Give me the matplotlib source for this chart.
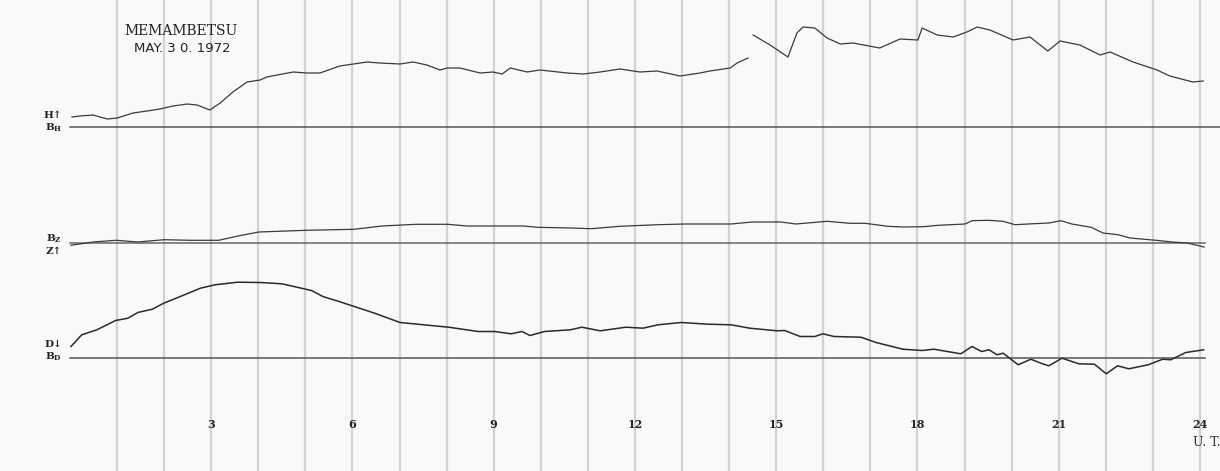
import numpy as np
import matplotlib
matplotlib.use("Agg")
import matplotlib.pyplot as plt

# Memambetsu magnetogram, 30 May 1972 (U.T. hours, trace deflection above baseline)
h_hours_1 = [0.04, 0.21, 0.49, 0.79, 1.00, 1.34, 1.64, 1.91, 2.19, 2.49, 2.70, 2.97,
             3.19, 3.46, 3.76, 4.04, 4.18, 4.74, 5.03, 5.31, 5.73, 6.31, 6.58, 7.01,
             7.29, 7.58, 7.86, 8.01, 8.28, 8.71, 8.98, 9.18, 9.35, 9.71, 9.98, 10.56,
             10.90, 11.26, 11.68, 12.11, 12.47, 12.96, 13.38, 13.59, 14.02, 14.17, 14.40]
h_defl_1 = [10, 11, 12, 8, 9, 14, 16, 18, 21, 23, 22, 17,
            24, 35, 45, 47, 50, 55, 54, 54, 61, 65, 64, 63,
            65, 62, 57, 59, 59, 54, 55, 53, 59, 55, 57, 54,
            53, 55, 58, 55, 56, 51, 54, 56, 59, 64, 69]
h_hours_2 = [14.51, 14.87, 15.25, 15.44, 15.57, 15.82, 16.08, 16.36, 16.63, 17.20,
             17.63, 18.01, 18.10, 18.42, 18.76, 19.05, 19.27, 19.54, 20.03, 20.39,
             20.77, 21.03, 21.45, 21.88, 22.09, 22.58, 23.09, 23.36, 23.85, 24.07]
h_defl_2 = [92, 82, 70, 94, 100, 99, 89, 83, 84, 79,
            88, 87, 99, 92, 90, 95, 100, 97, 87, 90,
            76, 86, 82, 72, 75, 65, 57, 51, 45, 46]

z_hours = [0.02, 0.49, 0.98, 1.44, 2.00, 2.55, 3.16, 3.57, 4.01, 5.01, 6.03, 6.63,
           7.35, 8.03, 8.43, 9.03, 9.62, 9.94, 10.64, 11.07, 11.68, 12.49, 13.06,
           14.04, 14.49, 15.10, 15.42, 16.08, 16.57, 16.89, 17.37, 17.69, 18.12,
           18.44, 19.01, 19.16, 19.50, 19.82, 20.07, 20.48, 20.79, 21.05, 21.28,
           21.69, 21.94, 22.26, 22.51, 23.07, 23.41, 23.73, 24.09]
z_defl = [-2.3, 1, 2.7, 1, 3.3, 2.7, 2.7, 7, 11, 12.7, 13.7, 17,
          18.7, 18.7, 17, 17, 17, 15.7, 15, 14.3, 16.7, 18.3, 19,
          19, 21, 21, 19, 21.7, 19.7, 19.7, 16.7, 16, 16.3,
          17.7, 19, 22.3, 22.7, 21.7, 18.3, 19.3, 20, 22.3, 19,
          15.7, 10, 8.3, 5, 2.7, 1, 0, -4]

d_hours = [0.02, 0.25, 0.57, 0.97, 1.23, 1.44, 1.75, 1.99, 2.38, 2.77, 3.08, 3.56,
           4.04, 4.50, 5.13, 5.37, 5.76, 6.47, 7.01, 8.04, 8.67, 9.02, 9.37, 9.60,
           9.77, 10.08, 10.63, 10.87, 11.26, 11.81, 12.17, 12.49, 12.98, 13.55,
           14.04, 14.44, 15.02, 15.18, 15.51, 15.82, 15.99, 16.23, 16.80, 17.12,
           17.69, 18.10, 18.35, 18.92, 19.16, 19.36, 19.52, 19.69, 19.82, 20.14,
           20.41, 20.62, 20.79, 21.07, 21.43, 21.76, 22.01, 22.25, 22.49, 22.90,
           23.21, 23.38, 23.70, 24.08]
d_defl = [11, 22.7, 27.7, 37, 39.3, 45, 48.3, 54.3, 61.7, 69.3, 72.7, 75.3,
          75, 73.7, 67, 61, 55.3, 44.3, 35, 30.3, 26, 26, 23.7, 26,
          22, 26, 27.7, 30.3, 26.7, 30.3, 29.3, 32.7, 35, 33.3,
          32.7, 29.3, 26.7, 27, 21, 21, 23.7, 21, 20.3, 15,
          8.3, 7, 8.3, 3.7, 11, 6, 7.7, 2.7, 4.3, -7.3,
          -1.7, -5.7, -8.3, -0.7, -6.3, -6.7, -16.3, -8.3, -11.3, -7.3,
          -1.7, -2.3, 5, 7.7]

tick_hours = [3, 6, 9, 12, 15, 18, 21, 24]

# layout: pixel positions on the sheet
X0, PX_PER_H = 70, 47.08
W, H = 1220, 471
base_h, base_z, base_d = 127, 243, 357.5


def px2h(px):
    return (px - X0) / PX_PER_H


fig = plt.figure(figsize=(12.2, 4.71), dpi=100, facecolor="#f9f9f9")
ax = fig.add_axes([0, 0, 1, 1])
ax.set_facecolor("#f9f9f9")
ax.set_xlim(px2h(0), px2h(W))
ax.set_ylim(H, 0)
ax.axis("off")

# hour grid
for hr in range(1, 25):
    ax.axvline(hr, color="#d2d2d2", lw=1.6, zorder=1)

# baselines
ax.plot([0, px2h(W)], [base_h, base_h], color="#555555", lw=1.1, zorder=2)
ax.plot([0, 24.1], [base_z, base_z], color="#666666", lw=1.1, zorder=2)
ax.plot([0, 24.1], [base_d, base_d], color="#555555", lw=1.1, zorder=2)

# traces
tr = dict(color="#3a3a3a", lw=0.9, zorder=3)
ax.plot(h_hours_1, base_h - np.array(h_defl_1), **tr)
ax.plot(h_hours_2, base_h - np.array(h_defl_2), **tr)
ax.plot(z_hours, base_z - np.array(z_defl), **tr)
ax.plot(d_hours, base_d - np.array(d_defl), color="#2a2a2a", lw=1.1, zorder=3)

# hour labels
for hr in tick_hours:
    ax.text(hr, 425, str(hr), ha="center", va="center", fontsize=8,
            fontweight="bold", family="DejaVu Serif", color="#222222")
ax.text(px2h(1193), 442, "U. T.", ha="left", va="center", fontsize=9,
        family="DejaVu Serif", color="#333333")

# title
ax.text(px2h(181), 31, "MEMAMBETSU", ha="center", va="center", fontsize=10,
        family="DejaVu Serif", color="#222222")
ax.text(px2h(182), 48, "MAY. 3 0. 1972", ha="center", va="center", fontsize=9.5,
        family="Liberation Sans Narrow", color="#222222")

# component labels
lab = dict(ha="right", va="center", fontsize=7.5, family="DejaVu Serif",
           color="#222222", fontweight="bold")
ax.text(px2h(62), 115, "H\u2191", **lab)
ax.text(px2h(62), 128, r"B$_\mathregular{H}$", **lab)
ax.text(px2h(62), 239, r"B$_\mathregular{Z}$", **lab)
ax.text(px2h(62), 252, "Z\u2191", **lab)
ax.text(px2h(62), 344, "D\u2193", **lab)
ax.text(px2h(62), 357, r"B$_\mathregular{D}$", **lab)

fig.savefig("out.png", dpi=100, facecolor=fig.get_facecolor())
